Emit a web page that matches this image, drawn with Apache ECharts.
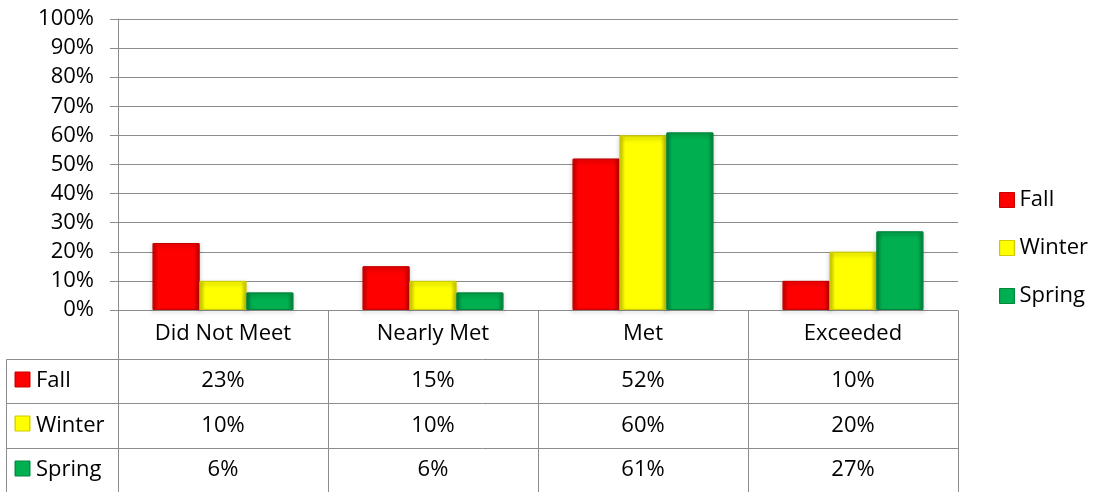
<!DOCTYPE html>
<html>
<head>
<meta charset="utf-8">
<script src="https://cdn.jsdelivr.net/npm/echarts@6/dist/echarts.min.js"></script>
<style>
  html, body { margin: 0; padding: 0; background: #fff; }
  #chart { width: 1103px; height: 492px; }
</style>
</head>
<body>
<div id="chart"></div>
<script>
// data
var categories = ['Did Not Meet', 'Nearly Met', 'Met', 'Exceeded'];
var seriesNames = ['Fall', 'Winter', 'Spring'];
var fallValues = [23, 15, 52, 10];
var winterValues = [10, 10, 60, 20];
var springValues = [6, 6, 61, 27];
var yMax = 100;
var yStep = 10;

var FONT = '"Open Sans", "Noto Sans", sans-serif';
var FS = 22;
var GRID_COLOR = '#8c8c8c';

// colours: main, edge
var palette = [
  ['#ff0000', '#c80000'],
  ['#ffff00', '#cccc00'],
  ['#00b050', '#00863c']
];
var allValues = [fallValues, winterValues, springValues];

function barFill(p) {
  return new echarts.graphic.LinearGradient(0, 0, 1, 0, [
    { offset: 0, color: p[1] },
    { offset: 0.12, color: p[0] },
    { offset: 0.88, color: p[0] },
    { offset: 1, color: p[1] }
  ]);
}

var chart = echarts.init(document.getElementById('chart'));

var series = seriesNames.map(function (name, i) {
  return {
    name: name,
    type: 'bar',
    data: allValues[i],
    barGap: '0%',
    barCategoryGap: '33%',
    itemStyle: {
      color: barFill(palette[i]),
      borderColor: palette[i][1],
      borderWidth: 1,
      shadowColor: 'rgba(0,0,0,0.35)',
      shadowBlur: 4,
      shadowOffsetY: 2
    }
  };
});

chart.setOption({
  animation: false,
  textStyle: { fontFamily: FONT },
  grid: { left: 118, right: 145, top: 19, bottom: 182, containLabel: false },
  legend: {
    orient: 'vertical',
    left: 994,
    top: 184,
    itemWidth: 15,
    itemHeight: 15,
    itemGap: 26,
    itemTextGap: 6,
    icon: 'rect',
    textStyle: { fontFamily: FONT, fontSize: FS, color: '#000' },
    data: seriesNames.map(function (n, i) {
      return { name: n, itemStyle: { color: barFill(palette[i]), borderColor: palette[i][1], borderWidth: 1 } };
    })
  },
  xAxis: {
    type: 'category',
    data: categories,
    axisLine: { lineStyle: { color: GRID_COLOR, width: 1 } },
    axisTick: { show: false },
    axisLabel: { fontFamily: FONT, fontSize: FS, color: '#000', margin: 13, interval: 0 }
  },
  yAxis: {
    type: 'value',
    min: 0,
    max: yMax,
    interval: yStep,
    axisLine: { show: true, lineStyle: { color: GRID_COLOR, width: 1 } },
    axisTick: { show: true, length: 8, lineStyle: { color: GRID_COLOR } },
    axisLabel: { fontFamily: FONT, fontSize: FS, color: '#000', margin: 24, formatter: '{value}%' },
    splitLine: { lineStyle: { color: GRID_COLOR, width: 1 } }
  },
  series: series
});

// data table under the plot, placed from the axis scales
function drawTable() {
  var centers = categories.map(function (c) {
    return chart.convertToPixel({ xAxisIndex: 0 }, c);
  });
  var band = centers[1] - centers[0];
  var bounds = [];
  for (var i = 0; i <= categories.length; i++) bounds.push(centers[0] - band / 2 + i * band);
  var y0 = chart.convertToPixel({ yAxisIndex: 0 }, 0);
  var headerH = 49;
  var rowH = 44.3;
  var tableLeft = 6;
  var rowTops = [];
  for (var r = 0; r <= seriesNames.length; r++) rowTops.push(y0 + headerH + r * rowH);
  var bottom = rowTops[rowTops.length - 1];
  var right = bounds[bounds.length - 1];

  var els = [];
  var line = function (x1, y1, x2, y2) {
    els.push({
      type: 'line',
      shape: { x1: Math.round(x1) + 0.5, y1: Math.round(y1) + 0.5, x2: Math.round(x2) + 0.5, y2: Math.round(y2) + 0.5 },
      style: { stroke: GRID_COLOR, lineWidth: 1 },
      z: 10
    });
  };
  bounds.forEach(function (x) { line(x, y0, x, bottom); });
  line(tableLeft, rowTops[0], tableLeft, bottom);
  rowTops.forEach(function (y) { line(tableLeft, y, right, y); });

  seriesNames.forEach(function (name, r) {
    var cy = (rowTops[r] + rowTops[r + 1]) / 2;
    els.push({
      type: 'rect',
      shape: { x: 15, y: Math.round(cy - 9), width: 15, height: 15 },
      style: { fill: barFill(palette[r]), stroke: palette[r][1], lineWidth: 1 },
      z: 10
    });
    els.push({
      type: 'text',
      x: 36, y: cy,
      style: { text: name, font: FS + 'px ' + FONT, fill: '#000', textAlign: 'left', textVerticalAlign: 'middle' },
      z: 10
    });
    allValues[r].forEach(function (v, c) {
      els.push({
        type: 'text',
        x: centers[c], y: cy,
        style: { text: v + '%', font: FS + 'px ' + FONT, fill: '#000', textAlign: 'center', textVerticalAlign: 'middle' },
        z: 10
      });
    });
  });
  chart.setOption({ graphic: { elements: els } });
}
drawTable();
</script>
</body>
</html>
